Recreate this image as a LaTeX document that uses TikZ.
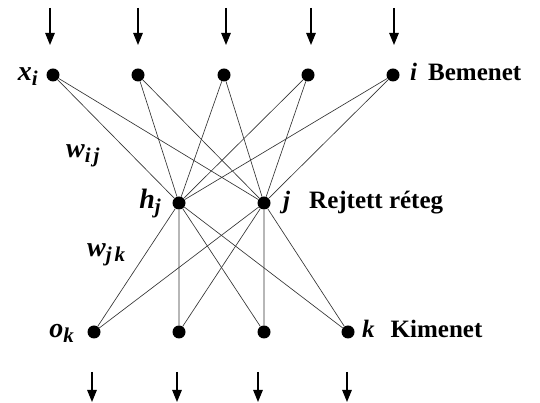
\documentclass[tikz,border=0pt]{standalone}
\usepackage{fontspec}
\setmainfont{Liberation Serif}
\usetikzlibrary{arrows.meta}

% bold italic letter with a lowered subscript
\newcommand{\bsub}[2]{\textit{#1\raisebox{-5pt}{\fontsize{21}{22}\selectfont#2}}}

\begin{document}
\begin{tikzpicture}[
  x=1pt,y=1pt,
  neuron/.style={circle,fill=black,inner sep=0pt,minimum size=13pt},
  lab/.style={font=\fontsize{25}{28}\selectfont\bfseries,inner sep=0pt},
  mlab/.style={font=\fontsize{28}{30}\selectfont\bfseries,inner sep=0pt},
  edge/.style={line width=0.65pt,black!80},
  arr/.style={-{Triangle[length=12pt,width=9.5pt]},line width=1.2pt}
]
  \useasboundingbox (0,0) rectangle (540,403);

  % Input layer
  \node[neuron] (i1) at (53,328) {};
  \node[neuron] (i2) at (138,328) {};
  \node[neuron] (i3) at (224,328) {};
  \node[neuron] (i4) at (308,328) {};
  \node[neuron] (i5) at (393,328) {};

  % Hidden layer
  \node[neuron] (h1) at (179,200) {};
  \node[neuron] (h2) at (264,200) {};

  % Output layer
  \node[neuron] (o1) at (94,71) {};
  \node[neuron] (o2) at (179,71) {};
  \node[neuron] (o3) at (264,71) {};
  \node[neuron] (o4) at (348,71) {};

  % Input to hidden
  \draw[edge] (i1) -- (h1) (i1) -- (h2);
  \draw[edge] (i2) -- (h1) (i2) -- (h2);
  \draw[edge] (i3) -- (h1) (i3) -- (h2);
  \draw[edge] (i4) -- (h1) (i4) -- (h2);
  \draw[edge] (i5) -- (h1) (i5) -- (h2);

  % Hidden to output
  \draw[edge] (h1) -- (o1) (h1) -- (o2) (h1) -- (o3) (h1) -- (o4);
  \draw[edge] (h2) -- (o1) (h2) -- (o2) (h2) -- (o3) (h2) -- (o4);

  % Incoming arrows
  \coordinate (t1) at (50,395);
  \coordinate (t2) at (138,395);
  \coordinate (t3) at (226,395);
  \coordinate (t4) at (311,395);
  \coordinate (t5) at (394,395);
  \coordinate (e1) at (50,358);
  \coordinate (e2) at (138,358);
  \coordinate (e3) at (226,358);
  \coordinate (e4) at (311,358);
  \coordinate (e5) at (394,358);
  \draw[arr] (t1) -- (e1);
  \draw[arr] (t2) -- (e2);
  \draw[arr] (t3) -- (e3);
  \draw[arr] (t4) -- (e4);
  \draw[arr] (t5) -- (e5);

  % Outgoing arrows
  \coordinate (s1) at (92,31);
  \coordinate (s2) at (177,31);
  \coordinate (s3) at (258,31);
  \coordinate (s4) at (347,31);
  \coordinate (b1) at (92,1);
  \coordinate (b2) at (177,1);
  \coordinate (b3) at (258,1);
  \coordinate (b4) at (347,1);
  \draw[arr] (s1) -- (b1);
  \draw[arr] (s2) -- (b2);
  \draw[arr] (s3) -- (b3);
  \draw[arr] (s4) -- (b4);

  % Labels
  \node[mlab,anchor=base east] (xi) at (38,322) {\bsub{x}{i}};
  \node[lab,anchor=base west] (inp) at (410,322) {\textit{i}\hspace{11pt}Bemenet};
  \node[mlab,anchor=base east] (hj) at (161,194) {\bsub{h}{j}};
  \node[lab,anchor=base west] (hid) at (283,194) {\textit{j}\hspace{19pt}Rejtett réteg};
  \node[mlab,anchor=base east] (ok) at (74,65) {\bsub{o}{k}};
  \node[lab,anchor=base west] (out) at (362,65) {\textit{k}\hspace{16pt}Kimenet};
  \node[mlab,anchor=base west] (wij) at (66,245) {\bsub{w}{i\hspace{3pt}j}};
  \node[mlab,anchor=base west] (wjk) at (87,146) {\bsub{w}{j\hspace{3pt}k}};
\end{tikzpicture}
\end{document}
